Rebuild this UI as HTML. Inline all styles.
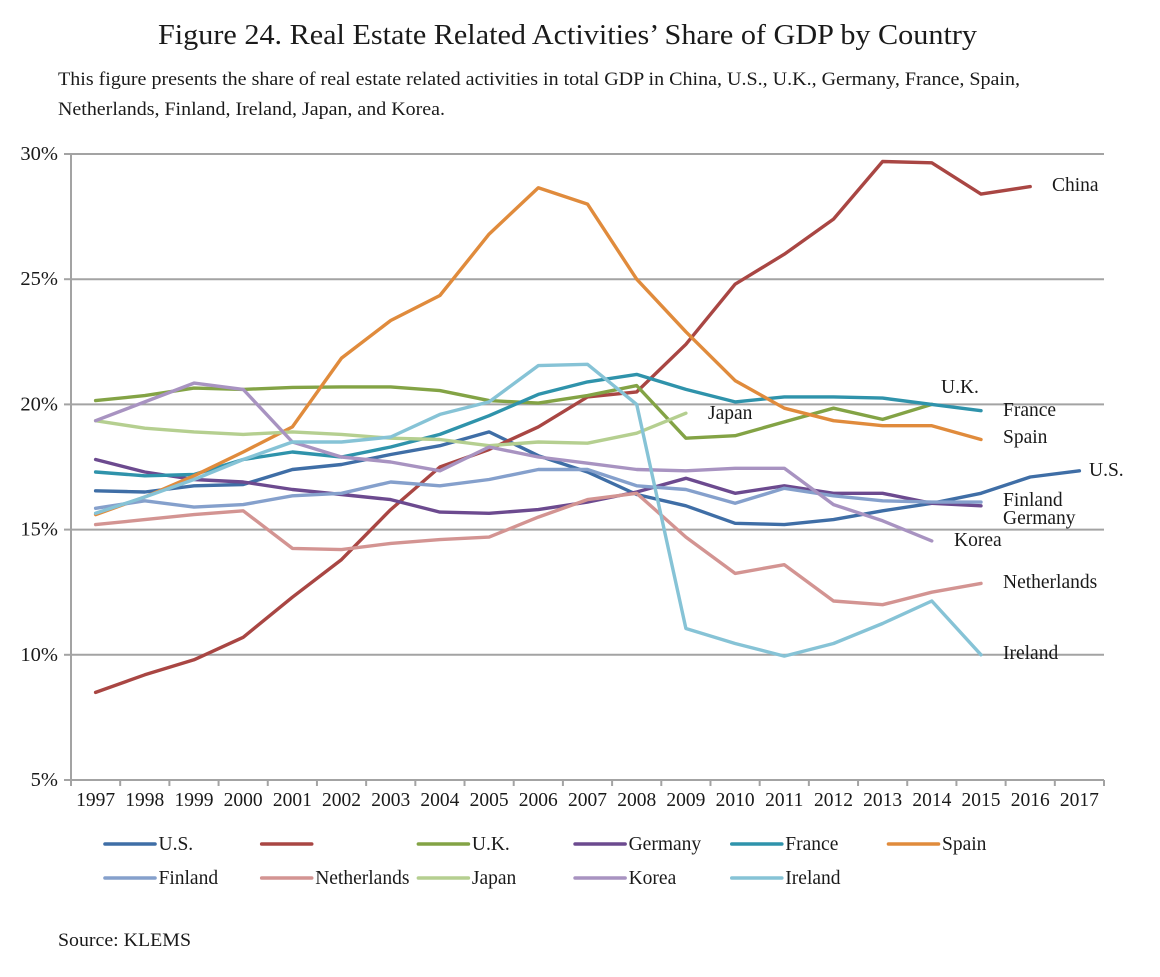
<!DOCTYPE html>
<html lang="en">
<head>
<meta charset="utf-8">
<title>Figure 24</title>
<style>
html,body{margin:0;padding:0;background:#fff;width:1160px;height:977px;overflow:hidden}
svg{display:block;filter:blur(0.35px)}
text{font-family:"Liberation Serif",serif;fill:#1a1a1a}
.t{font-size:19.5px}
.yl{font-size:20.5px}
</style>
</head>
<body>
<svg id="chart" width="1160" height="977" viewBox="0 0 1160 977" xmlns="http://www.w3.org/2000/svg">
<text x="158" y="44" textLength="819" lengthAdjust="spacingAndGlyphs" style="font-size:29px">Figure 24. Real Estate Related Activities’ Share of GDP by Country</text>
<text x="58" y="85" textLength="962" lengthAdjust="spacingAndGlyphs" style="font-size:18.5px">This figure presents the share of real estate related activities in total GDP in China, U.S., U.K., Germany, France, Spain,</text>
<text x="58" y="115" textLength="387" lengthAdjust="spacingAndGlyphs" style="font-size:18.5px">Netherlands, Finland, Ireland, Japan, and Korea.</text>
<text x="58" y="946" textLength="133" lengthAdjust="spacingAndGlyphs" style="font-size:18.5px">Source: KLEMS</text>
<g id="grid"></g>
<g id="axes"></g>
<g id="marks"></g>
<g id="labels"></g>
<g id="legend"></g>
</svg>
<script>
const categories = [1997,1998,1999,2000,2001,2002,2003,2004,2005,2006,2007,2008,2009,2010,2011,2012,2013,2014,2015,2016,2017];
const yTicks = [5,10,15,20,25,30];

const usValues = [16.55,16.5,16.75,16.8,17.4,17.6,18.0,18.35,18.9,17.95,17.3,16.4,15.95,15.25,15.2,15.4,15.75,16.05,16.45,17.1,17.35];
const chinaValues = [8.5,9.2,9.8,10.7,12.3,13.8,15.8,17.5,18.2,19.1,20.3,20.5,22.4,24.8,26.0,27.4,29.7,29.65,28.4,28.7];
const ukValues = [20.15,20.35,20.65,20.6,20.68,20.7,20.7,20.55,20.15,20.05,20.35,20.75,18.65,18.75,19.3,19.85,19.4,20.0];
const germanyValues = [17.8,17.3,17.0,16.9,16.6,16.4,16.2,15.7,15.65,15.8,16.1,16.5,17.05,16.45,16.75,16.45,16.45,16.05,15.95];
const franceValues = [17.3,17.15,17.2,17.8,18.1,17.9,18.3,18.8,19.55,20.4,20.9,21.2,20.6,20.1,20.3,20.3,20.25,20.0,19.75];
const spainValues = [15.6,16.3,17.15,18.1,19.1,21.85,23.35,24.35,26.8,28.65,28.0,25.0,22.9,20.95,19.85,19.35,19.15,19.15,18.6];
const finlandValues = [15.85,16.15,15.9,16.0,16.35,16.45,16.9,16.75,17.0,17.4,17.4,16.75,16.6,16.05,16.65,16.35,16.15,16.1,16.1];
const netherlandsValues = [15.2,15.4,15.6,15.75,14.25,14.2,14.45,14.6,14.7,15.5,16.2,16.45,14.7,13.25,13.6,12.15,12.0,12.5,12.85];
const japanValues = [19.35,19.05,18.9,18.8,18.9,18.8,18.65,18.6,18.35,18.5,18.45,18.85,19.65];
const koreaValues = [19.35,20.1,20.85,20.6,18.5,17.9,17.7,17.35,18.3,17.9,17.65,17.4,17.35,17.45,17.45,16.0,15.35,14.55];
const irelandValues = [15.65,16.3,17.0,17.8,18.5,18.5,18.7,19.6,20.1,21.55,21.6,20.0,11.05,10.45,9.95,10.45,11.25,12.15,10.0];

const seriesNames = ['U.S.','China','U.K.','Germany','France','Spain','Finland','Netherlands','Japan','Korea','Ireland'];
const seriesValues = [usValues,chinaValues,ukValues,germanyValues,franceValues,spainValues,finlandValues,netherlandsValues,japanValues,koreaValues,irelandValues];
const seriesColors = ['#3f6ea6','#a94643','#83a345','#6c4a8f','#2f93ab','#e08b3c','#85a0cc','#d39492','#b5cf90','#a893c1','#86c3d6'];
const legendNames = ['U.S.','','U.K.','Germany','France','Spain','Finland','Netherlands','Japan','Korea','Ireland'];

const NS = 'http://www.w3.org/2000/svg';
const plotLeft = 71, plotRight = 1104, plotTop = 154, plotBottom = 780;
const band = (plotRight - plotLeft) / categories.length;
function xScale(i){ return plotLeft + band * (i + 0.5); }
function yScale(v){ return plotBottom - (v - 5) / 25 * (plotBottom - plotTop); }
function make(tag, attrs, parent, text){
  const el = document.createElementNS(NS, tag);
  for (const k in attrs) el.setAttribute(k, attrs[k]);
  if (text !== undefined) el.textContent = text;
  parent.appendChild(el);
  return el;
}
const gridG = document.getElementById('grid');
const axesG = document.getElementById('axes');
const marksG = document.getElementById('marks');
const labelsG = document.getElementById('labels');
const legendG = document.getElementById('legend');

yTicks.forEach(function(v){
  const y = yScale(v);
  if (v > 5) {
    const g = make('line', {x1:plotLeft, x2:plotRight, y1:y, y2:y, stroke:'#a3a3a3', 'stroke-width':2}, gridG);
    
    
  }
  const tk = make('line', {x1:plotLeft-7, x2:plotLeft, y1:y, y2:y, stroke:'#a3a3a3', 'stroke-width':2}, axesG);
  
  
  const lb = make('text', {x:58, y:y+6, 'text-anchor':'end', class:'yl'}, axesG, v + '%');
  
  
});
const yAxis = make('line', {x1:plotLeft, x2:plotLeft, y1:plotTop, y2:plotBottom, stroke:'#a3a3a3', 'stroke-width':2}, axesG);


const xAxis = make('line', {x1:plotLeft, x2:plotRight, y1:plotBottom, y2:plotBottom, stroke:'#a3a3a3', 'stroke-width':2}, axesG);


for (let i = 0; i <= categories.length; i++) {
  const x = plotLeft + band * i;
  const tk = make('line', {x1:x, x2:x, y1:plotBottom, y2:plotBottom+6, stroke:'#a3a3a3', 'stroke-width':2}, axesG);
  
  
}
categories.forEach(function(c, i){
  const lb = make('text', {x:xScale(i), y:806, 'text-anchor':'middle', class:'t'}, axesG, c);
  
  
});

seriesValues.forEach(function(vals, s){
  const pts = vals.map(function(v, i){ return xScale(i).toFixed(1) + ',' + yScale(v).toFixed(1); }).join(' ');
  const pl = make('polyline', {points:pts, fill:'none', stroke:seriesColors[s], 'stroke-width':3.4, 'stroke-linecap':'round', 'stroke-linejoin':'round'}, marksG);
  
  
});

const directLabels = [['China',1052,191],['U.K.',941,393],['France',1003,416],['Spain',1003,443],['U.S.',1089,476],['Finland',1003,506],['Germany',1003,524],['Korea',954,546],['Netherlands',1003,588],['Ireland',1003,659],['Japan',708,419]];
directLabels.forEach(function(d){
  const lb = make('text', {x:d[1], y:d[2], class:'t'}, labelsG, d[0]);
  
  
});

legendNames.forEach(function(name, s){
  const col = s % 6, row = Math.floor(s / 6);
  const x = 105 + col * 156.7, y = 844 + row * 34;
  const sw = make('line', {x1:x, x2:x+50, y1:y, y2:y, stroke:seriesColors[s], 'stroke-width':3.6, 'stroke-linecap':'round'}, legendG);
  
  
  const lb = make('text', {x:x+53.5, y:y+6, class:'t'}, legendG, name);
  
  
});
</script>
</body>
</html>
